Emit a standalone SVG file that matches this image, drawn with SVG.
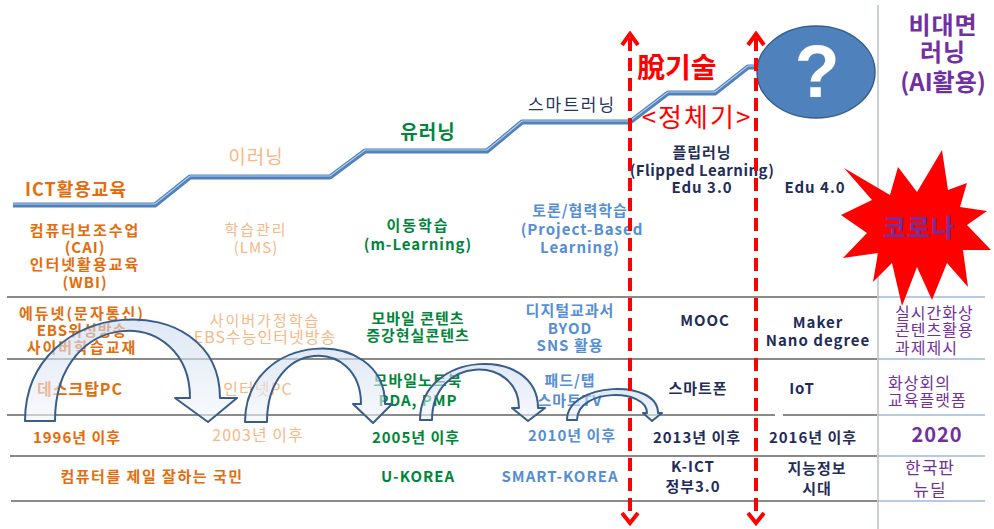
<svg xmlns="http://www.w3.org/2000/svg" width="994" height="529" viewBox="0 0 994 529">
<defs>
<linearGradient id="ag" x1="0" y1="0" x2="0" y2="1">
<stop offset="0" stop-color="#c9d9ee"/>
<stop offset="1" stop-color="#f4f7fb"/>
</linearGradient>
<style>
text{font-family:"Noto Sans CJK KR","Noto Sans",sans-serif;text-anchor:middle;font-size:15px;letter-spacing:1px}
.b{font-weight:bold}
.o{fill:#e46c0a;font-weight:bold}
.lo{fill:#f9b784}
.g{fill:#00853a;font-weight:bold}
.lb{fill:#558ed5;font-weight:bold}
.n{fill:#1f2d5a;font-weight:bold}
.p{fill:#7030a0}
.s{text-anchor:start}
.k{letter-spacing:2px}
.row{stroke:#8a8a8a;stroke-width:2;fill:none}
.rowb{stroke:#6f95c8;stroke-width:1.2;fill:none}
.arr{fill:url(#ag);fill-opacity:0.6;stroke:#385d8a;stroke-width:2;stroke-linejoin:round}
.rd{stroke:#ff0000;stroke-width:4;stroke-dasharray:13 7;fill:none}
.rh{stroke:#ff0000;stroke-width:4;fill:none}
</style>
</defs>
<rect width="994" height="529" fill="#ffffff"/>
<g id="grid">
<path class="row" d="M7 297H877M7 359H877M7 415H775M783 415H877M10 456H877M11 501H877"/>
<path class="rowb" d="M878 297H985M878 359H985M878 415H985M878 456H985M878 501H985"/>
<path d="M878 5V529" stroke="#a7b0bf" stroke-width="1.2"/>
</g>
<g id="stair">
<polyline points="13,205 155,205 190,177 330,177 365,151 487,151 522,122 630,122 668,93 715,93 748,67 757,67" fill="none" stroke="#4f81bd" stroke-width="5" stroke-linejoin="round"/>
<polyline points="13,204 155,204 190,176 330,176 365,150 487,150 522,121 630,121 668,92 715,92 748,66 757,66" fill="none" stroke="#b8cde8" stroke-width="1.2"/>
</g>
<g id="col1">
<text class="o s" x="25" y="196" style="font-size:18px;letter-spacing:1px">ICT활용교육</text>
<text class="o k" x="85" y="236">컴퓨터보조수업</text>
<text class="o" x="85" y="253">(CAI)</text>
<text class="o k" x="85" y="270">인터넷활용교육</text>
<text class="o" x="85" y="288">(WBI)</text>
<text class="o k" x="82" y="319">에듀넷(문자통신)</text>
<text class="o" x="82" y="336">EBS위성방송</text>
<text class="o k" x="82" y="353">사이버학습교재</text>
<text class="o" x="80" y="395" style="font-size:16px">데스크탑PC</text>
<text class="o" x="77" y="443">1996년 이후</text>
<text class="o" x="152" y="482" style="letter-spacing:1.5px">컴퓨터를 제일 잘하는 국민</text>
</g>
<g id="col2">
<text class="lo" x="256" y="164" style="font-size:19px">이러닝</text>
<text class="lo k" x="256" y="235">학습관리</text>
<text class="lo" x="256" y="253">(LMS)</text>
<text class="lo k" x="265" y="326">사이버가정학습</text>
<text class="lo" x="265" y="343" style="font-size:16px">EBS수능인터넷방송</text>
<text class="lo" x="258" y="395" style="font-size:16px">인터넷PC</text>
<text class="lo" x="258" y="441" style="font-size:16px">2003년 이후</text>
</g>
<g id="col3">
<text class="g" x="428" y="139" style="font-size:19px">유러닝</text>
<text class="g k" x="418" y="231">이동학습</text>
<text class="g" x="418" y="250">(m-Learning)</text>
<text class="g" x="418" y="324">모바일 콘텐츠</text>
<text class="g" x="418" y="341">증강현실콘텐츠</text>
<text class="g" x="418" y="386">모바일노트북</text>
<text class="g" x="418" y="406">PDA, PMP</text>
<text class="g" x="416" y="443">2005년 이후</text>
<text class="g" x="418" y="482">U-KOREA</text>
</g>
<g id="col4">
<text x="572" y="111" fill="#1f3864" style="font-size:17px;letter-spacing:2px">스마트러닝</text>
<text class="lb" x="580" y="216">토론/협력학습</text>
<text class="lb" x="582" y="235">(Project-Based</text>
<text class="lb" x="580" y="253">Learning)</text>
<text class="lb" x="570" y="316">디지털교과서</text>
<text class="lb" x="570" y="334">BYOD</text>
<text class="lb" x="570" y="351">SNS 활용</text>
<text class="lb" x="570" y="386">패드/탭</text>
<text class="lb" x="570" y="406">스마트TV</text>
<text class="lb" x="572" y="441">2010년 이후</text>
<text class="lb" x="560" y="482">SMART-KOREA</text>
</g>
<g id="col5">
<text class="n" x="702" y="158">플립러닝</text>
<text class="n" x="702" y="176" style="letter-spacing:0.5px">(Flipped Learning)</text>
<text class="n" x="702" y="193">Edu 3.0</text>
<text class="n" x="705" y="326">MOOC</text>
<text class="n" x="698" y="394">스마트폰</text>
<text class="n" x="697" y="443">2013년 이후</text>
<text class="n" x="693" y="472">K-ICT</text>
<text class="n" x="693" y="492">정부3.0</text>
</g>
<g id="col6">
<text class="n" x="815" y="193">Edu 4.0</text>
<text class="n" x="818" y="328">Maker</text>
<text class="n" x="818" y="346">Nano degree</text>
<text class="n" x="802" y="394">IoT</text>
<text class="n" x="813" y="443">2016년 이후</text>
<text class="n" x="817" y="474">지능정보</text>
<text class="n" x="817" y="494">시대</text>
</g>
<g id="arrows">
<path class="arr" d="M25 421C25 295 220 285 220 398L237 398 208 422 175 398 190 398C190 305 55 305 55 421Z"/>
<path class="arr" d="M245 422C245 330 385 325 385 404L392 404 373 423 353 404 361 404C361 337 267 337 267 422Z"/>
<path class="arr" d="M420 420C420 350 538 345 538 408L545 408 528 421 512 408 519 408C519 355 432 355 432 420Z"/>
<path class="arr" d="M567 420C567 382 658 378 658 413L662 413 652 421 643 413 647 413C647 388 577 388 577 420Z"/>
</g>
<g id="question">
<ellipse cx="816" cy="72" rx="59" ry="46" fill="#4f81bd" stroke="#385d8a" stroke-width="1.5"/>
<text x="817" y="97" fill="#ffffff" style="font-family:'Liberation Sans',sans-serif;font-weight:bold;font-size:74px;letter-spacing:0">?</text>
</g>
<g id="col7">
<text class="p b" x="943" y="34" style="font-size:24px">비대면</text>
<text class="p b" x="943" y="61" style="font-size:24px">러닝</text>
<text class="p b" x="943" y="91" style="font-size:24px;letter-spacing:0">(AI활용)</text>
<text class="p s" x="895" y="319" style="font-size:16px">실시간화상</text>
<text class="p s" x="895" y="336" style="font-size:16px">콘텐츠활용</text>
<text class="p s" x="895" y="354" style="font-size:16px">과제제시</text>
<text class="p s" x="888" y="389" style="font-size:16px">화상회의</text>
<text class="p s" x="888" y="406" style="font-size:16px">교육플랫폼</text>
<text class="p b" x="937" y="442" style="font-size:20px">2020</text>
<text class="p" x="930" y="474" style="font-size:17px">한국판</text>
<text class="p" x="930" y="496" style="font-size:17px">뉴딜</text>
</g>
<g id="corona">
<polygon fill="#ff0000" points="942,150 948,190 967,183 960,207 987,211 967,225 991,250 963,250 968,287 947,263 932,300 917,267 902,306 892,263 873,282 878,253 843,258 867,233 841,215 872,200 844,168 890,195 898,167 917,192"/>
<text class="p b" x="919" y="237" style="font-size:25px">코로나</text>
</g>
<g id="connectors">
<path class="rd" d="M630 38V514"/>
<path class="rd" d="M756 38V514"/>
<path class="rh" d="M622 45L630 34 638 45M748 45L756 34 764 45M622 513L630 523 638 513M748 513L756 523 764 513"/>
</g>
<g id="stagnation">
<text x="637" y="78" fill="#ff0000" class="s b" style="font-size:28px;letter-spacing:0">脫기술</text>
<text x="697" y="127" fill="#ff0000" style="font-size:26px;letter-spacing:2px">&lt;정체기&gt;</text>
</g>
</svg>
